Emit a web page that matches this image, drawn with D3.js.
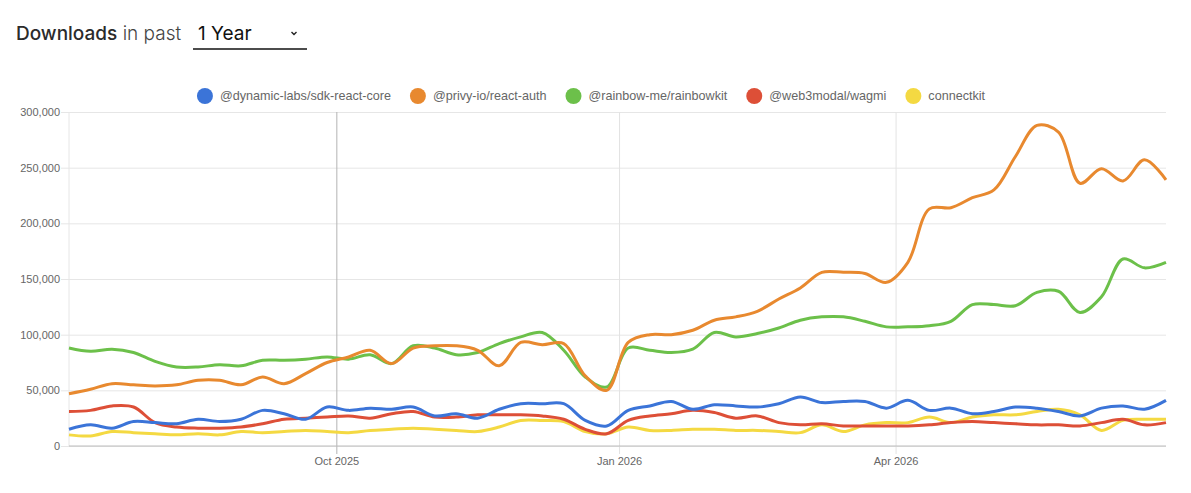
<!DOCTYPE html>
<html>
<head>
<meta charset="utf-8">
<script src="https://cdn.jsdelivr.net/npm/d3@7"></script>
<style>
  body { margin: 0; background: #fff; }
  svg { display: block; }
</style>
</head>
<body>
<svg id="chart"></svg>
<script>
var w = 1191
var h = 493

// series names + colours
var packages = ["@dynamic-labs/sdk-react-core", "@privy-io/react-auth", "@rainbow-me/rainbowkit", "@web3modal/wagmi", "connectkit"]
var colors = ["#3b74d8", "#e8892f", "#6cc04a", "#dd4f37", "#f4d942"]

// weekly downloads, in thousands
var dynamicLabs = [15,19,16,22,21,20,24,22,24,32,29,24,35,32,34,33,35,27,29,25,33,38,38,38,23,18,32,36,40,33,37,36,35,38,44,39,40,40,34,41,32,34,29,31,35,34,31,27,34,36,33,41]
var privy = [47,51,56,55,54,55,59,59,55,62,56,65,75,80,86,74,88,90,90,86,72,93,91,92,63,50,93,100,100,104,113,116,121,132,142,156,156,155,147,165,213,214,223,230,260,288,282,236,249,238,257,239]
var rainbowkit = [88,85,87,84,76,71,71,73,72,77,77,78,80,78,82,74,90,88,82,84,92,98,102,86,62,53,88,86,84,87,102,98,101,106,113,116,116,112,107,107,108,112,127,127,126,138,139,120,134,168,160,165]
var web3modal = [31,32,36,35,21,17,16,16,17,20,24,25,26,27,25,29,31,26,26,28,28,28,27,24,15,11,23,27,29,32,30,25,27,21,19,20,18,18,18,18,19,21,22,21,20,19,19,18,21,24,19,21]
var connectkit = [10,9,13,12,11,10,11,10,13,12,13,14,13,12,14,15,16,15,14,13,17,23,23,22,13,11,17,14,14,15,15,14,14,13,12,19,13,19,21,21,26,21,26,28,28,31,33,28,14,23,24,24]

var allSeries = [dynamicLabs, privy, rainbowkit, web3modal, connectkit]

// one point per week
var weeks = d3.timeDay.range(new Date(2025, 6, 6), new Date(2026, 6, 5), 7)

var yTicks = [0, 50000, 100000, 150000, 200000, 250000, 300000]
var xTickLabels = ["Oct 2025", "Jan 2026", "Apr 2026"]

// plot box (window.top is reserved, so no plain "top")
var plotL = 69, plotR = 1166, plotT = 112, plotB = 446

var svg = d3.select("#chart")
	.attr("width", w)
	.attr("height", h)
	.style("background-color", "#fff")

//header
var head = svg.append("text")
	.attr("x", 16)
	.attr("y", 40)
	.style("font-family", "Inter, 'Open Sans', sans-serif")
	.style("font-size", "19px")
	.attr("fill", "#2b2b2b")
head.append("tspan").text("Downloads").style("font-weight", 500)
head.append("tspan").text(" in past").style("font-weight", 300).attr("fill", "#444")

svg.append("text")
	.attr("x", 198)
	.attr("y", 40)
	.style("font-family", "Inter, 'Open Sans', sans-serif")
	.style("font-size", "19px")
	.style("font-weight", 400)
	.attr("fill", "#111")
	.text("1 Year")

svg.append("path")
	.attr("d", "M291.5,32 L294,34.5 L296.5,32")
	.attr("fill", "none")
	.attr("stroke", "#222")
	.attr("stroke-width", 1.4)

svg.append("line")
	.attr("x1", 193).attr("x2", 307)
	.attr("y1", 49).attr("y2", 49)
	.attr("stroke", "#111")
	.attr("stroke-width", 1.5)

// scales
var x = d3.scaleTime()
	.domain([weeks[0], weeks[weeks.length - 1]])
	.range([plotL, plotR])

var y = d3.scaleLinear()
	.domain([0, 300000])
	.range([plotB, plotT])

var parseMonth = d3.timeParse("%b %Y")
var fmt = d3.format(",")

// horizontal grid
var yAxis = d3.axisLeft(y)
	.tickValues(yTicks)
	.tickSize(0)
	.tickPadding(0)
	.tickFormat(fmt)

var gy = svg.append("g")
	.attr("transform", "translate(" + (plotL - 8) + ",0)")
	.call(yAxis)
gy.select(".domain").remove()
gy.selectAll(".tick line")
	.attr("x1", 0)
	.attr("x2", plotR - plotL + 8)
	.attr("stroke", "#e6e6e6")
gy.selectAll(".tick text")
	.attr("x", -1)
	.attr("fill", "#666")
	.style("font-family", "'Liberation Sans', Arial, sans-serif")
	.style("font-size", "11px")

// left border
svg.append("line")
	.attr("x1", plotL).attr("x2", plotL)
	.attr("y1", plotT).attr("y2", plotB)
	.attr("stroke", "#e6e6e6")

// vertical grid at month ticks
var xAxis = d3.axisBottom(x)
	.tickValues(xTickLabels.map(parseMonth))
	.tickSize(0)
	.tickFormat(function(d, i){ return xTickLabels[i] })

var gx = svg.append("g")
	.attr("transform", "translate(0," + plotB + ")")
	.call(xAxis)
gx.select(".domain").remove()
gx.selectAll(".tick line")
	.attr("y1", 8)
	.attr("y2", -(plotB - plotT))
	.attr("stroke", function(d, i){ return i == 0 ? "#b3b3b3" : "#e3e3e3" })
gx.selectAll(".tick text")
	.attr("y", 11)
	.attr("dy", "0.71em")
	.attr("fill", "#666")
	.style("font-family", "'Liberation Sans', Arial, sans-serif")
	.style("font-size", "11px")

// x axis baseline
svg.append("line")
	.attr("x1", plotL).attr("x2", plotR)
	.attr("y1", plotB).attr("y2", plotB)
	.attr("stroke", "#bdbdbd")

// lines, smoothed like the original spline
var line = d3.line()
	.x(function(d, i){ return x(weeks[i]) })
	.y(function(d){ return y(d * 1000) })
	.curve(d3.curveCatmullRom.alpha(0.5))

var order = [4, 3, 2, 1, 0]   // first dataset ends up on top
svg.append("g")
	.selectAll("path")
	.data(order)
	.join("path")
	.attr("d", function(k){ return line(allSeries[k]) })
	.attr("fill", "none")
	.attr("stroke", function(k){ return colors[k] })
	.attr("stroke-width", 3)
	.attr("stroke-linejoin", "round")

// legend
var legend = svg.append("g")
var lx = 0
packages.forEach(function(name, i){
	var item = legend.append("g").attr("transform", "translate(" + lx + ",0)")
	item.append("circle")
		.attr("cx", 0)
		.attr("cy", 96)
		.attr("r", 8)
		.attr("fill", colors[i])
	var t = item.append("text")
		.attr("x", 15)
		.attr("y", 100)
		.attr("fill", "#666")
		.style("font-family", "'Liberation Sans', Arial, sans-serif")
		.style("font-size", "12.6px")
		.text(name)
	lx += 15 + t.node().getComputedTextLength() + 27
})
var legendW = lx - 27 + 8
legend.attr("transform", "translate(" + (591 - legendW / 2 + 8) + ",0)")
</script>
</body>
</html>
